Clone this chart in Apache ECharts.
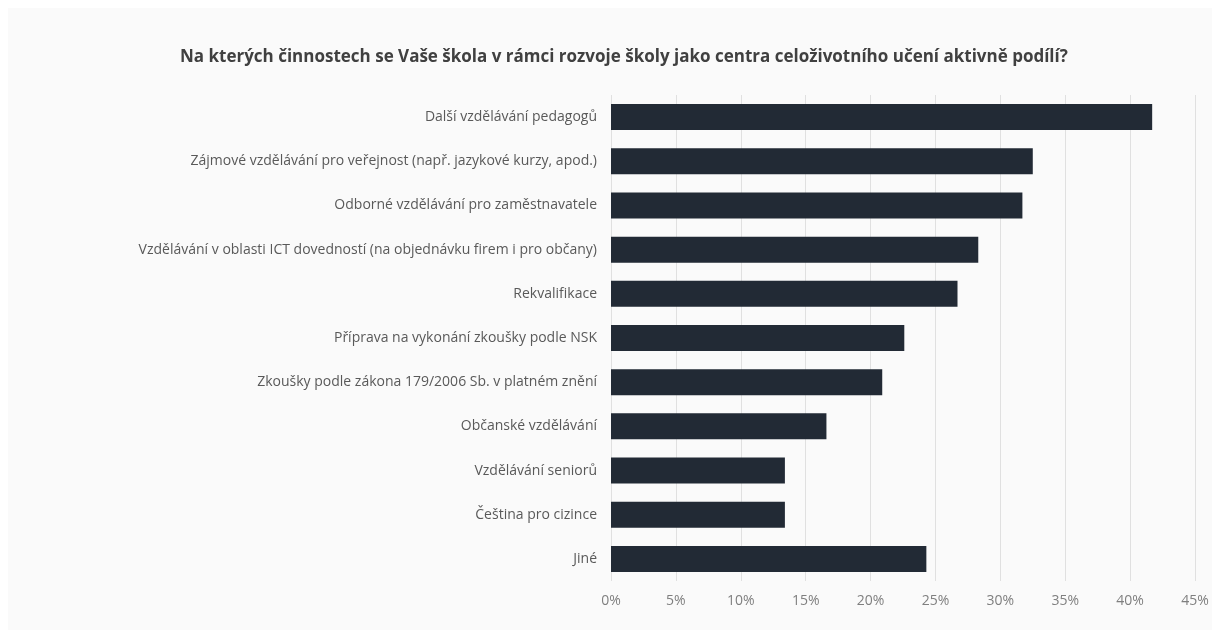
<!DOCTYPE html>
<html><head><meta charset="utf-8">
<script src="https://cdn.jsdelivr.net/npm/echarts@6/dist/echarts.min.js"></script>
<style>html,body{margin:0;padding:0;background:#fff}#c{width:1220px;height:637px}</style>
</head><body><div id="c"></div>
<script>
const titleText = 'Na kterých činnostech se Vaše škola v rámci rozvoje školy jako centra celoživotního učení aktivně podílí?';
const categories = [
  'Další vzdělávání pedagogů',
  'Zájmové vzdělávání pro veřejnost (např. jazykové kurzy, apod.)',
  'Odborné vzdělávání pro zaměstnavatele',
  'Vzdělávání v oblasti ICT dovedností (na objednávku firem i pro občany)',
  'Rekvalifikace',
  'Příprava na vykonání zkoušky podle NSK',
  'Zkoušky podle zákona 179/2006 Sb. v platném znění',
  'Občanské vzdělávání',
  'Vzdělávání seniorů',
  'Čeština pro cizince',
  'Jiné'
];
const values = [41.7, 32.5, 31.7, 28.3, 26.7, 22.6, 20.9, 16.6, 13.4, 13.4, 24.3];
const axisMax = 45;
const axisStep = 5;

const chart = echarts.init(document.getElementById('c'));
chart.setOption({
  backgroundColor: '#ffffff',
  animation: false,
  graphic: [{type: 'rect', z: -10, shape: {x: 8, y: 8, width: 1204, height: 622}, style: {fill: '#fafafa'}}],
  title: {
    text: titleText, left: 175, top: 44,
    textStyle: {fontFamily: 'Open Sans', fontWeight: 'bold', fontSize: 17, color: '#404040'}
  },
  grid: {left: 611, right: 25, top: 95, bottom: 56, containLabel: false},
  xAxis: {
    type: 'value', min: 0, max: axisMax, interval: axisStep,
    axisLine: {show: false}, axisTick: {show: false},
    splitLine: {show: true, lineStyle: {color: '#e0e0e0', width: 1}},
    axisLabel: {formatter: v => v + '%', color: '#7f7f7f', fontFamily: 'Open Sans', fontSize: 14, margin: 13}
  },
  yAxis: {
    type: 'category', data: categories, inverse: true,
    axisLine: {show: false}, axisTick: {show: false},
    axisLabel: {color: '#595959', fontFamily: 'Open Sans', fontSize: 14, margin: 14}
  },
  series: [{
    type: 'bar', data: values, barWidth: 26,
    itemStyle: {color: '#222a35'}
  }]
});
</script></body></html>
